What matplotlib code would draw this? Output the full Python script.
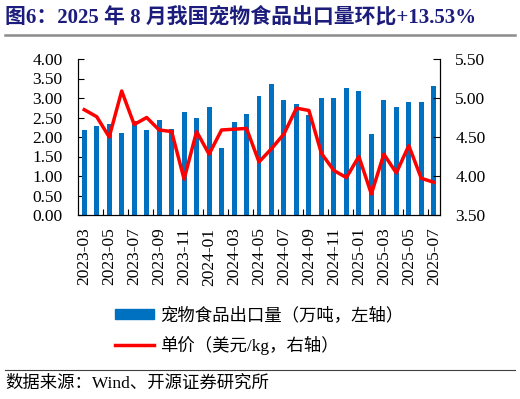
import matplotlib
matplotlib.use("Agg")
import matplotlib.pyplot as plt
import numpy as np
from matplotlib.lines import Line2D

# monthly data, 2023-03 .. 2025-07
months = ["2023-03", "2023-04", "2023-05", "2023-06", "2023-07", "2023-08", "2023-09",
          "2023-10", "2023-11", "2023-12", "2024-01", "2024-02", "2024-03", "2024-04",
          "2024-05", "2024-06", "2024-07", "2024-08", "2024-09", "2024-10", "2024-11",
          "2024-12", "2025-01", "2025-02", "2025-03", "2025-04", "2025-05", "2025-06",
          "2025-07"]
volume = [2.18, 2.27, 2.33, 2.11, 2.40, 2.18, 2.43, 2.21, 2.64, 2.48, 2.77, 1.73, 2.39,
          2.60, 3.06, 3.35, 2.96, 2.85, 2.56, 3.00, 3.00, 3.26, 3.19, 2.07, 2.96, 2.78,
          2.89, 2.89, 3.31]
price = [4.85, 4.76, 4.50, 5.09, 4.66, 4.75, 4.59, 4.57, 3.96, 4.57, 4.28, 4.59, 4.60,
         4.61, 4.18, 4.35, 4.54, 4.87, 4.84, 4.29, 4.07, 3.98, 4.25, 3.77, 4.28, 4.04,
         4.39, 3.97, 3.92]

title = "图6：2025 年 8 月我国宠物食品出口量环比+13.53%"
bar_label = "宠物食品出口量（万吨，左轴）"
line_label = "单价（美元/kg，右轴）"
source = "数据来源：Wind、开源证券研究所"

fam = ["Liberation Serif", "Noto Sans CJK SC"]
plt.rcParams["font.family"] = fam

W, H = 520, 399
fig = plt.figure(figsize=(W / 100, H / 100), dpi=100)

ax = fig.add_axes([78 / W, 1 - 215 / H, (440 - 78) / W, 156 / H])
x = np.arange(len(months))
ax.bar(x, volume, width=0.4, color="#0070C0", zorder=2)
ax.set_xlim(-0.5, len(months) - 0.5)
ax.set_ylim(0, 4)
lt = np.arange(0, 4.01, 0.5)
ax.set_yticks(lt)
ax.set_yticklabels([f"{v:.2f}" for v in lt], fontsize=12.5)
ax.tick_params(axis="y", direction="in", length=4, width=0.8, pad=11)
ax.set_xticks(x[::2])
ax.set_xticklabels(months[::2], rotation=90, fontsize=12.5)
ax.tick_params(axis="x", length=0, pad=9)
ax.set_xticks(np.arange(1.5, len(months) - 1, 2), minor=True)
ax.tick_params(axis="x", which="minor", direction="in", length=4, width=0.8)
ax.spines["top"].set_visible(False)
for s in ["left", "right", "bottom"]:
    ax.spines[s].set_linewidth(0.8)

ax2 = ax.twinx()
ax2.plot(x, price, color="#FF0000", lw=2.5, zorder=3)
ax2.set_ylim(3.5, 5.5)
rt = np.arange(3.5, 5.51, 0.5)
ax2.set_yticks(rt)
ax2.set_yticklabels([f"{v:.2f}" for v in rt], fontsize=12.5)
ax2.tick_params(axis="y", direction="in", length=5, width=0.8, pad=11)
ax2.spines["top"].set_visible(False)
ax2.spines["right"].set_linewidth(0.8)

handles = [plt.Rectangle((0, 0), 1, 1, color="#0070C0"),
           Line2D([0], [0], color="#FF0000", lw=2.5)]
fig.legend(handles, [bar_label, line_label], loc="center left",
           bbox_to_anchor=(115 / W, 1 - 331 / H), frameon=False, fontsize=12.5,
           borderpad=0, borderaxespad=0,
           handlelength=2.25, handleheight=0.5, handletextpad=0.35, labelspacing=0.65)

fig.text(5 / W, 1 - 17 / H, title, fontsize=15, fontweight="bold", color="#1C1C7C",
         ha="left", va="center")
fig.add_artist(Line2D([5 / W, 515 / W], [1 - 35 / H] * 2, color="#8C8C8C", lw=1.8))
fig.add_artist(Line2D([5 / W, 515 / W], [1 - 370 / H] * 2, color="#404040", lw=0.8))
fig.text(5 / W, 1 - 384 / H, source, fontsize=12.5, ha="left", va="center")

fig.savefig("out.png", dpi=100)
